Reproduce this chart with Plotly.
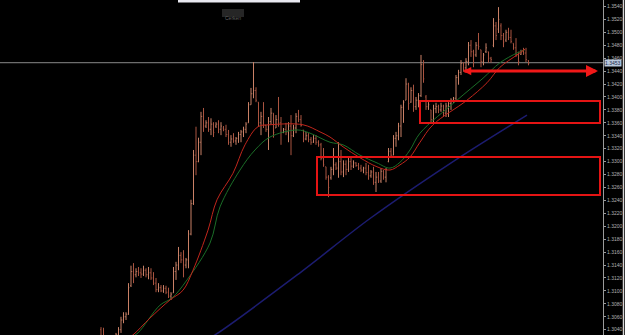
import plotly.graph_objects as go

# ---- OHLC data (bar index, prices) ----
highs = [1.3044,1.3043,1.3030,1.3027,1.3024,1.3030,1.3035,1.3044,1.3060,1.3067,
         1.3067,1.3112,1.3139,1.3143,1.3135,1.3137,1.3135,1.3139,1.3135,1.3137,
         1.3135,1.3129,1.3120,1.3112,1.3109,1.3109,1.3108,1.3105,1.3098,1.3137,
         1.3145,1.3168,1.3160,1.3163,1.3151,1.3194,1.3241,1.3318,1.3354,1.3337,
         1.3377,1.3383,1.3364,1.3369,1.3367,1.3361,1.3361,1.3364,1.3361,1.3355,
         1.3357,1.3349,1.3341,1.3344,1.3338,1.3346,1.3349,1.3354,1.3361,1.3392,
         1.3414,1.3454,1.3415,1.3392,1.3377,1.3392,1.3357,1.3369,1.3383,1.3375,
         1.3372,1.3400,1.3369,1.3352,1.3360,1.3361,1.3372,1.3357,1.3375,1.3380,
         1.3372,1.3349,1.3346,1.3344,1.3338,1.3341,1.3341,1.3333,1.3329,1.3321,
         1.3292,1.3279,1.3292,1.3321,1.3299,1.3330,1.3318,1.3302,1.3302,1.3307,
         1.3306,1.3302,1.3299,1.3298,1.3295,1.3292,1.3298,1.3295,1.3287,1.3292,
         1.3284,1.3284,1.3290,1.3287,1.3290,1.3321,1.3321,1.3341,1.3346,1.3360,
         1.3388,1.3395,1.3429,1.3422,1.3415,1.3419,1.3400,1.3406,1.3465,1.3457,
         1.3403,1.3392,1.3380,1.3388,1.3391,1.3388,1.3391,1.3388,1.3391,1.3392,
         1.3398,1.3400,1.3434,1.3442,1.3457,1.3454,1.3460,1.3485,1.3488,1.3473,
         1.3485,1.3499,1.3473,1.3468,1.3483,1.3470,1.3462,1.3522,1.3516,1.3539,
         1.3514,1.3499,1.3504,1.3507,1.3504,1.3483,1.3491,1.3470,1.3473,1.3476,
         1.3476,1.3457]
lows = [1.3024,1.3016,1.3009,1.3006,1.3001,1.3009,1.3016,1.3027,1.3035,1.3050,
        1.3055,1.3063,1.3106,1.3112,1.3121,1.3123,1.3120,1.3123,1.3121,1.3118,
        1.3117,1.3109,1.3098,1.3098,1.3098,1.3097,1.3095,1.3089,1.3086,1.3097,
        1.3117,1.3132,1.3143,1.3121,1.3135,1.3135,1.3186,1.3233,1.3279,1.3299,
        1.3310,1.3346,1.3352,1.3346,1.3341,1.3338,1.3352,1.3344,1.3341,1.3347,
        1.3338,1.3326,1.3323,1.3329,1.3326,1.3329,1.3330,1.3338,1.3344,1.3360,
        1.3388,1.3398,1.3392,1.3354,1.3341,1.3352,1.3346,1.3318,1.3357,1.3337,
        1.3352,1.3354,1.3326,1.3344,1.3341,1.3330,1.3310,1.3338,1.3344,1.3361,
        1.3354,1.3330,1.3333,1.3330,1.3326,1.3329,1.3326,1.3323,1.3302,1.3292,
        1.3272,1.3245,1.3272,1.3279,1.3287,1.3275,1.3279,1.3276,1.3279,1.3284,
        1.3287,1.3290,1.3292,1.3287,1.3284,1.3282,1.3279,1.3272,1.3275,1.3264,
        1.3253,1.3267,1.3267,1.3272,1.3268,1.3299,1.3307,1.3310,1.3323,1.3333,
        1.3338,1.3360,1.3395,1.3380,1.3391,1.3377,1.3380,1.3384,1.3400,1.3422,
        1.3380,1.3380,1.3360,1.3360,1.3375,1.3375,1.3377,1.3369,1.3369,1.3369,
        1.3380,1.3391,1.3395,1.3419,1.3434,1.3439,1.3439,1.3449,1.3462,1.3446,
        1.3462,1.3473,1.3446,1.3449,1.3468,1.3453,1.3453,1.3477,1.3488,1.3499,
        1.3488,1.3477,1.3485,1.3488,1.3483,1.3473,1.3462,1.3449,1.3465,1.3465,
        1.3454,1.3449]
opens = [1.3040,1.3028,1.3020,1.3012,1.3010,1.3020,1.3026,1.3032,1.3040,1.3055,
         1.3060,1.3064,1.3108,1.3130,1.3125,1.3130,1.3128,1.3126,1.3132,1.3125,
         1.3128,1.3120,1.3112,1.3102,1.3105,1.3100,1.3104,1.3098,1.3092,1.3097,
         1.3130,1.3140,1.3155,1.3148,1.3140,1.3148,1.3188,1.3235,1.3310,1.3300,
         1.3330,1.3370,1.3355,1.3360,1.3350,1.3358,1.3355,1.3358,1.3350,1.3352,
         1.3350,1.3342,1.3330,1.3335,1.3332,1.3336,1.3342,1.3346,1.3350,1.3360,
         1.3388,1.3405,1.3410,1.3392,1.3360,1.3370,1.3356,1.3350,1.3362,1.3375,
         1.3352,1.3365,1.3360,1.3345,1.3350,1.3346,1.3355,1.3340,1.3352,1.3370,
         1.3365,1.3349,1.3335,1.3340,1.3334,1.3330,1.3336,1.3330,1.3326,1.3305,
         1.3292,1.3276,1.3275,1.3288,1.3295,1.3290,1.3300,1.3284,1.3296,1.3288,
         1.3300,1.3293,1.3298,1.3294,1.3290,1.3287,1.3290,1.3283,1.3278,1.3284,
         1.3268,1.3276,1.3270,1.3285,1.3276,1.3300,1.3316,1.3310,1.3336,1.3340,
         1.3355,1.3384,1.3395,1.3420,1.3392,1.3410,1.3385,1.3395,1.3402,1.3450,
         1.3400,1.3385,1.3380,1.3365,1.3382,1.3385,1.3380,1.3386,1.3375,1.3386,
         1.3390,1.3395,1.3398,1.3430,1.3438,1.3452,1.3445,1.3455,1.3480,1.3470,
         1.3465,1.3480,1.3473,1.3455,1.3470,1.3470,1.3460,1.3480,1.3510,1.3505,
         1.3510,1.3495,1.3488,1.3500,1.3492,1.3483,1.3476,1.3465,1.3466,1.3470,
         1.3468,1.3456]
closes = [1.3028,1.3020,1.3012,1.3010,1.3020,1.3026,1.3032,1.3040,1.3055,1.3060,
          1.3064,1.3105,1.3130,1.3125,1.3130,1.3128,1.3126,1.3132,1.3125,1.3128,
          1.3120,1.3112,1.3102,1.3105,1.3100,1.3104,1.3098,1.3092,1.3095,1.3130,
          1.3140,1.3155,1.3148,1.3140,1.3148,1.3188,1.3235,1.3310,1.3300,1.3330,
          1.3370,1.3355,1.3360,1.3350,1.3358,1.3345,1.3358,1.3350,1.3355,1.3350,
          1.3342,1.3330,1.3335,1.3332,1.3336,1.3342,1.3346,1.3350,1.3358,1.3388,
          1.3405,1.3410,1.3395,1.3360,1.3370,1.3356,1.3350,1.3362,1.3375,1.3345,
          1.3365,1.3360,1.3345,1.3350,1.3346,1.3355,1.3340,1.3352,1.3370,1.3365,
          1.3356,1.3335,1.3340,1.3334,1.3330,1.3336,1.3330,1.3326,1.3305,1.3295,
          1.3276,1.3260,1.3288,1.3295,1.3290,1.3300,1.3284,1.3296,1.3288,1.3300,
          1.3293,1.3298,1.3294,1.3290,1.3287,1.3290,1.3283,1.3278,1.3284,1.3268,
          1.3276,1.3270,1.3285,1.3276,1.3288,1.3316,1.3310,1.3336,1.3340,1.3355,
          1.3384,1.3392,1.3420,1.3390,1.3410,1.3385,1.3395,1.3402,1.3450,1.3428,
          1.3385,1.3388,1.3365,1.3382,1.3385,1.3380,1.3386,1.3375,1.3386,1.3390,
          1.3395,1.3398,1.3430,1.3438,1.3452,1.3445,1.3455,1.3480,1.3470,1.3465,
          1.3480,1.3478,1.3455,1.3465,1.3476,1.3460,1.3458,1.3510,1.3495,1.3520,
          1.3495,1.3485,1.3500,1.3492,1.3486,1.3476,1.3465,1.3455,1.3470,1.3468,
          1.3458,1.3452]
bar_index = list(range(len(highs)))

# ---- moving averages (bar index, price) ----
red_ma_x = [10.0, 12.8, 19.6, 27.6, 32.8, 36.8, 42.8, 46.4, 52.8, 57.6, 62.8, 67.6, 80.8,
            87.6, 91.6, 96.8, 103.6, 110.4, 115.6, 119.6, 123.6, 127.6, 132.8,
            146.4, 154.4, 159.6, 166.4, 169.6]
red_ma_y = [1.3025, 1.3032, 1.3058, 1.3086, 1.3101, 1.3132, 1.3194, 1.3241, 1.3282, 1.3326,
            1.3354, 1.3357, 1.3357, 1.3346, 1.3338, 1.3323, 1.3306, 1.3292, 1.3287,
            1.3295, 1.3307, 1.3330, 1.3357, 1.3395, 1.3422, 1.3446, 1.3465, 1.3474]
green_ma_x = [12.0, 14.8, 23.6, 28.4, 34.4, 43.6, 47.6, 55.6, 61.6, 67.6, 78.4, 83.6, 91.6,
              96.8, 103.6, 110.4, 115.6, 119.6, 123.6, 127.6, 142.4, 152.8, 159.6,
              166.4, 169.6]
green_ma_y = [1.3028, 1.3035, 1.3078, 1.3089, 1.3117, 1.3174, 1.3230, 1.3287, 1.3318, 1.3338,
              1.3349, 1.3344, 1.3330, 1.3326, 1.3310, 1.3298, 1.3290, 1.3299, 1.3318,
              1.3344, 1.3395, 1.3429, 1.3453, 1.3468, 1.3473]
blue_ma_x = [42.0, 45.6, 79.6, 107.6, 139.6, 170.4]
blue_ma_y = [1.3025, 1.3032, 1.3128, 1.3212, 1.3297, 1.3372]

# ---- annotation levels ----
hline_price = 1.3453
box1 = dict(x0=127.6, x1=199.6, y0=1.33597, y1=1.33938)
box2 = dict(x0=86.4, x1=199.6, y0=1.32483, y1=1.33071)
arrow_price = 1.3440
arrow_x = (144.8, 198.8)

y_ticks = [1.3040 + 0.002 * k for k in range(26)]
y_labels = ["%.4f" % v for v in y_ticks]

fig = go.Figure()
fig.add_trace(go.Ohlc(
    x=bar_index, open=opens, high=highs, low=lows, close=closes,
    increasing=dict(line=dict(color="#c98066", width=1)),
    decreasing=dict(line=dict(color="#aa5440", width=1)),
    tickwidth=0.3, showlegend=False, hoverinfo="skip"))
fig.add_trace(go.Scatter(x=blue_ma_x, y=blue_ma_y, mode="lines",
                         line=dict(color="#1c1c70", width=1.5, shape="spline"),
                         showlegend=False, hoverinfo="skip"))
fig.add_trace(go.Scatter(x=green_ma_x, y=green_ma_y, mode="lines",
                         line=dict(color="#1b6e28", width=1, shape="spline"),
                         showlegend=False, hoverinfo="skip"))
fig.add_trace(go.Scatter(x=red_ma_x, y=red_ma_y, mode="lines",
                         line=dict(color="#c0261c", width=1, shape="spline"),
                         showlegend=False, hoverinfo="skip"))

shapes = [
    dict(type="line", xref="paper", x0=0, x1=1, yref="y", y0=hline_price, y1=hline_price,
         line=dict(color="#8a8a8a", width=1), layer="below"),
    dict(type="rect", xref="x", yref="y", **box1, line=dict(color="#e41414", width=2)),
    dict(type="rect", xref="x", yref="y", **box2, line=dict(color="#e41414", width=2)),
    dict(type="line", xref="x", yref="y", x0=arrow_x[0] + 0.5, x1=arrow_x[1] - 1.0,
         y0=arrow_price, y1=arrow_price, line=dict(color="#f01818", width=3)),
    # window fragments at the top
    dict(type="rect", xref="paper", yref="paper", x0=178 / 603, x1=300 / 603, y0=1 - 2.5 / 335, y1=1.0,
         fillcolor="#e8e8f0", line=dict(width=0)),
    dict(type="rect", xref="paper", yref="paper", x0=222 / 603, x1=244 / 603, y0=1 - 17 / 335, y1=1 - 9 / 335,
         fillcolor="#262626", line=dict(width=0)),
    dict(type="line", xref="paper", yref="paper", x0=623.5 / 603, x1=623.5 / 603, y0=0, y1=1,
         line=dict(color="#d8d8d8", width=1.5)),
]

annotations = [
    dict(x=arrow_x[1], y=arrow_price, ax=arrow_x[1] - 4, ay=arrow_price, xref="x", yref="y",
         axref="x", ayref="y", showarrow=True, arrowhead=2, arrowsize=0.8, arrowwidth=3,
         arrowcolor="#f01818", text=""),
    dict(x=arrow_x[0], y=arrow_price, ax=arrow_x[0] + 3, ay=arrow_price, xref="x", yref="y",
         axref="x", ayref="y", showarrow=True, arrowhead=2, arrowsize=0.55, arrowwidth=3,
         arrowcolor="#f01818", text=""),
    dict(x=1, y=hline_price, xref="paper", yref="y", xanchor="left", yanchor="middle",
         text="1.3453", showarrow=False, font=dict(size=5, color="#1a2a4a", family="Arial"),
         bgcolor="#b8c8dc", borderpad=0, xshift=1),
    dict(x=233 / 603, y=1 - 13 / 335, xref="paper", yref="paper", text="Cerken", showarrow=False,
         font=dict(size=5, color="#606060", family="Arial")),
]

fig.update_layout(
    width=625, height=335,
    margin=dict(l=0, r=22, t=0, b=0),
    paper_bgcolor="#000000", plot_bgcolor="#000000",
    showlegend=False,
    shapes=shapes, annotations=annotations,
    xaxis=dict(range=[-40.4, 200.8], visible=False, rangeslider=dict(visible=False),
               showgrid=False, zeroline=False),
    yaxis=dict(side="right", range=[1.30318, 1.3550], tickvals=y_ticks, ticktext=y_labels,
               showgrid=False, zeroline=False, showline=True, linecolor="#9a9a9a", linewidth=1,
               ticks="outside", ticklen=2, tickcolor="#9a9a9a",
               tickfont=dict(size=5, color="#b0b0b0", family="Arial")),
)

fig.write_html("out.html")
